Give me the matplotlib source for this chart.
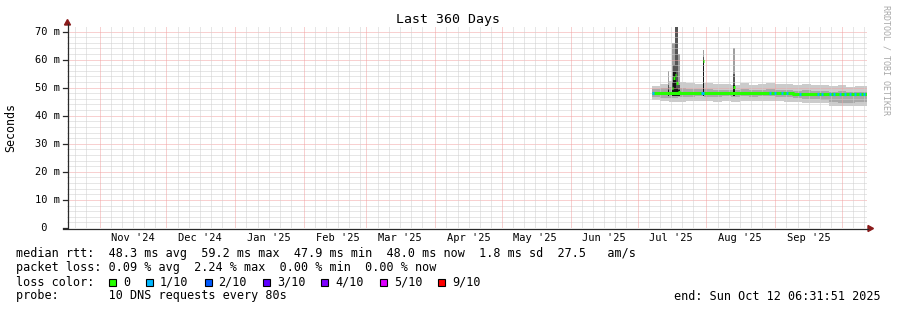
import numpy as np
import matplotlib
matplotlib.use("Agg")
import matplotlib.pyplot as plt
import matplotlib.dates as mdates
import matplotlib.transforms as mtransforms
from matplotlib.patches import Rectangle, Polygon
from matplotlib.lines import Line2D
from datetime import datetime, timedelta

W, H = 897, 310
MONO = "DejaVu Sans Mono"

# graph window
t_end = datetime(2025, 10, 12, 6, 31, 51)
t_start = t_end - timedelta(days=360)
t_ref = datetime(2025, 7, 1)  # data days below count from here

# smoke bands, 4 day bins (edges in days after 1 Jul 2025), values in ms
bin_edge = [6.5, 10, 14, 18, 22, 26, 30, 34, 38, 42, 46, 50, 54, 58, 62,
            66, 70, 74, 78, 82, 86, 90, 94, 98, 103.3]
smoke_max = [50.6, 51.2, 52.2, 52.0, 51.8, 51.4, 51.6, 51.4, 51.2, 51.0, 51.5, 51.0,
             51.3, 51.6, 51.2, 51.4, 51.0, 51.2, 50.8, 51.0, 50.6, 50.8, 50.4, 50.5]
smoke_hi = [49.4, 49.8, 50.4, 50.0, 49.6, 49.4, 49.4, 49.3, 49.2, 49.2, 49.4, 49.1,
            49.2, 49.4, 49.1, 49.2, 48.9, 49.0, 48.8, 48.9, 48.6, 48.7, 48.5, 48.6]
smoke_lo = [46.6, 46.4, 46.2, 46.5, 46.8, 46.9, 46.8, 46.7, 46.9, 46.8, 46.9, 46.8,
            46.9, 47.0, 46.8, 46.6, 46.4, 46.0, 45.8, 45.6, 44.8, 44.7, 44.6, 44.8]
smoke_min = [45.6, 45.2, 44.9, 45.0, 45.2, 45.3, 45.2, 45.0, 45.2, 45.0, 45.3, 45.1,
             45.2, 45.3, 45.1, 45.0, 44.8, 44.6, 44.6, 44.4, 43.6, 43.5, 43.4, 43.6]
median = [48.1, 48.1, 48.2, 48.2, 48.1, 48.1, 48.1, 48.0, 48.0, 48.0, 48.1, 48.0,
          48.1, 48.1, 48.0, 48.0, 47.9, 47.9, 47.9, 47.8, 47.7, 47.7, 47.7, 47.8]

# short spikes
spike_from = [13.9, 15.3, 16.1, 16.9, 17.2, 18.4, 29.3, 42.8, 48.6]
spike_to = [14.3, 16.1, 16.9, 17.2, 18.4, 18.9, 30.1, 43.9, 49.0]
spike_max = [56.0, 66.0, 66.0, 75.0, 75.0, 62.0, 63.3, 64.0, 52.2]
spike_upper = [51.0, 52.0, 58.0, 75.0, 75.0, 51.0, 61.0, 55.0, 49.5]
spike_core = [49.0, 49.0, 55.5, 55.5, 50.0, 49.0, 59.7, 51.0, 48.5]
spike_med = [48.2, 50.0, 53.5, 54.5, 51.5, 48.5, 59.5, 50.3, 48.0]

# samples with 1/10 packet loss
loss_day = [7.0, 29.2, 59.6, 61.9, 65.0, 67.2, 73.1, 81.2, 83.0, 86.6, 88.5,
            91.1, 93.4, 95.7, 98.0, 100.2, 102.0]

y_ticks = [0, 10, 20, 30, 40, 50, 60, 70]
y_tick_labels = [" 0", "10 m", "20 m", "30 m", "40 m", "50 m", "60 m", "70 m"]
month_labels = ["Nov '24", "Dec '24", "Jan '25", "Feb '25", "Mar '25", "Apr '25",
                "May '25", "Jun '25", "Jul '25", "Aug '25", "Sep '25"]

loss_names = ["0", "1/10", "2/10", "3/10", "4/10", "5/10", "9/10"]
loss_colors = ["#26ff00", "#00b8ff", "#0059ff", "#5e00ff", "#7e00ff", "#dd00ff", "#ff0000"]

legend_lines = [
    "median rtt:  48.3 ms avg  59.2 ms max  47.9 ms min  48.0 ms now  1.8 ms sd  27.5   am/s",
    "packet loss: 0.09 % avg  2.24 % max  0.00 % min  0.00 % now",
    "loss color:",
    "probe:       10 DNS requests every 80s",
]


def dn(d):
    return mdates.date2num(t_ref) + np.asarray(d, dtype=float)


def fx(px):
    return px / W


def fy(py):
    return 1 - py / H


fig = plt.figure(figsize=(W / 100, H / 100), dpi=100)
fig.patch.set_facecolor("white")
ax = fig.add_axes([fx(67), fy(228), 800 / W, 201 / H])
ax.set_xlim(mdates.date2num(t_start), mdates.date2num(t_end))
ax.set_ylim(0, (228 - 27) / 2.807)
for s in ax.spines.values():
    s.set_visible(False)
ax.set_xticks([])
ax.set_yticks([])

# grid, thin dotted lines snapped to pixels
dot = (0, (1, 1))
minor_c = "#cfcfcf"
major_c = "#f2a2a2"
gkw = dict(lw=0.72, ls=dot, zorder=3, snap=True)
for v in np.arange(2, 72, 2):
    if v % 10:
        ax.axhline(v, color=minor_c, **gkw)
for v in y_ticks[1:]:
    ax.axhline(v, color=major_c, **gkw)

months = []
m = datetime(2024, 11, 1)
while m < t_end:
    months.append(m)
    m = datetime(m.year + (m.month // 12), m.month % 12 + 1, 1)
for mo in [datetime(2024, 10, 1)] + months:
    for dd in (6, 11, 16, 21, 26):
        t = mo.replace(day=dd)
        if t_start < t < t_end:
            ax.axvline(mdates.date2num(t), color=minor_c, **gkw)
for mo in months:
    ax.axvline(mdates.date2num(mo), color=major_c, **gkw)

# smoke
xe = dn(bin_edge)


def band(lo, hi, color, z):
    ax.fill_between(xe, list(lo) + [lo[-1]], list(hi) + [hi[-1]], step="post",
                    color=color, lw=0, zorder=z)


band(smoke_min, smoke_max, "#cbcbcb", 2)
band(smoke_lo, smoke_hi, "#a9a9a9", 2.1)

for a, b, mx, up, co in zip(spike_from, spike_to, spike_max, spike_upper, spike_core):
    ax.fill_between(dn([a, b]), 47, mx, color="#a0a0a0", lw=0, zorder=2.2)
    ax.fill_between(dn([a, b]), 47, up, color="#555555", lw=0, zorder=2.3)
    ax.fill_between(dn([a, b]), 47, co, color="#151515", lw=0, zorder=2.4)

# median line coloured by loss
ax.step(xe, list(median) + [median[-1]], where="post", color=loss_colors[0],
        lw=2.2, zorder=5, solid_capstyle="butt")
for a, b, md in zip(spike_from, spike_to, spike_med):
    ax.plot(dn([a, b]), [md, md], color=loss_colors[0], lw=2.2, zorder=5,
            solid_capstyle="butt")
idx = np.searchsorted(bin_edge, loss_day, side="right") - 1
for d, i in zip(loss_day, idx):
    ax.plot(dn([d - 0.5, d + 0.5]), [median[i]] * 2, color=loss_colors[1], lw=2.2,
            zorder=6, solid_capstyle="butt")

# axes lines and arrows
axc = "#2a2a2a"
arc = "#8b1a1a"
fig.add_artist(Line2D([fx(67.5), fx(67.5)], [fy(228), fy(24)], color=axc, lw=0.9))
fig.add_artist(Line2D([fx(63), fx(868)], [fy(228.5), fy(228.5)], color=axc, lw=0.9))
fig.add_artist(Polygon([[fx(64.5), fy(25)], [fx(70.5), fy(25)], [fx(67.5), fy(19.5)]],
                       closed=True, color=arc, transform=fig.transFigure))
fig.add_artist(Polygon([[fx(868), fy(225.5)], [fx(868), fy(231.5)], [fx(873.5), fy(228.5)]],
                       closed=True, color=arc, transform=fig.transFigure))

# y ticks and labels
for v, lab in zip(y_ticks, y_tick_labels):
    py = 228 - v * 2.807
    fig.add_artist(Line2D([fx(63), fx(67)], [fy(py), fy(py)], color=axc, lw=0.9))
    fig.text(fx(35), fy(py), lab, family=MONO, fontsize=7.5, ha="left", va="center")

# month labels, centred mid-month
xfig = mtransforms.blended_transform_factory(ax.transData, fig.transFigure)
for mo, lab in zip(months, month_labels):
    ax.text(mdates.date2num(mo + timedelta(days=15)), fy(238), lab, family=MONO,
            fontsize=7.5, ha="center", va="center", transform=xfig)

# titles
fig.text(fx(448), fy(19), "Last 360 Days", family=MONO, fontsize=9.5, ha="center", va="center")
fig.text(fx(11), fy(127), "Seconds", family=MONO, fontsize=8.4, rotation=90,
         ha="center", va="center")
fig.text(fx(886), fy(60), "RRDTOOL / TOBI OETIKER", family=MONO, fontsize=6,
         color="#a8a8a8", rotation=270, ha="center", va="center")

# legend
for i, line in enumerate(legend_lines):
    fig.text(fx(16), fy(254 + 14 * i), line, family=MONO, fontsize=8.5, ha="left", va="center")

cw = 7.1
sx = 109.0
for name, col in zip(loss_names, loss_colors):
    fig.add_artist(Rectangle((fx(sx), fy(285.5)), 7 / W, 7 / H, transform=fig.transFigure,
                             facecolor=col, edgecolor="black", lw=0.8))
    fig.text(fx(sx + 14), fy(282), name, family=MONO, fontsize=8.5, ha="left", va="center")
    sx += 14 + len(name) * cw + 16

fig.text(fx(880.5), fy(296), "end: Sun Oct 12 06:31:51 2025", family=MONO, fontsize=8.5,
         ha="right", va="center")

fig.savefig("out.png", dpi=100)
